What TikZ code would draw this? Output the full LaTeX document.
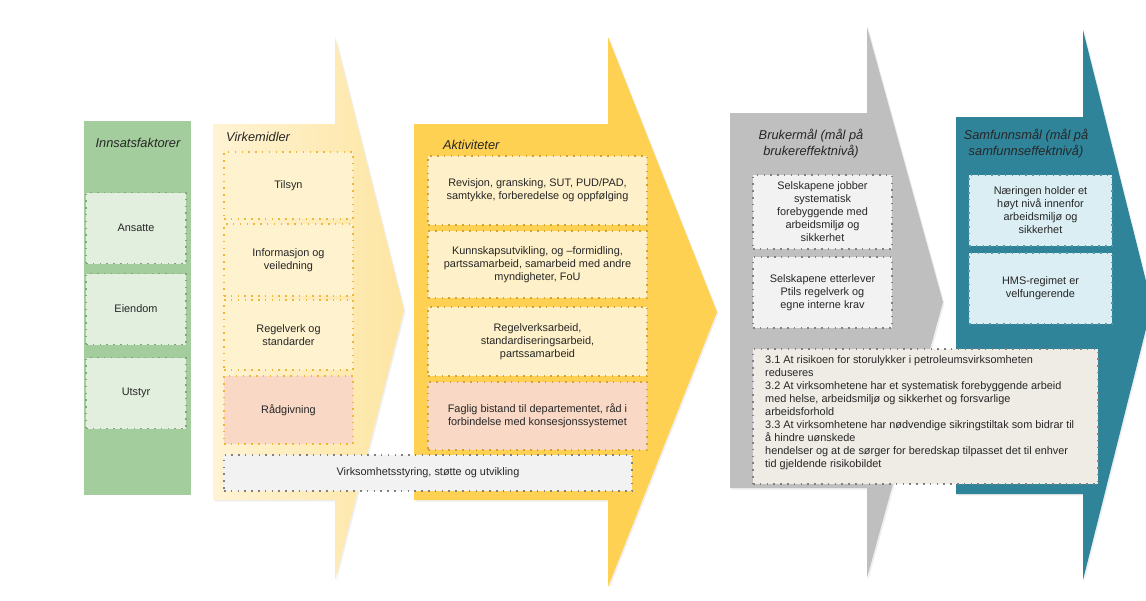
\documentclass[tikz,border=0pt]{standalone}
\usepackage{fontspec}
\setmainfont{Liberation Sans}
\usetikzlibrary{shadows}
\definecolor{txt}{HTML}{262626}
\definecolor{green}{HTML}{A3CD9C}
\definecolor{gbfill}{HTML}{E2EFDF}
\definecolor{gbdot}{HTML}{7FA67B}
\definecolor{vlight}{HTML}{FFF3D4}
\definecolor{vdark}{HTML}{FDE5A2}
\definecolor{vbfill}{HTML}{FEF2CF}
\definecolor{vbdot}{HTML}{EDB83A}
\definecolor{gold}{HTML}{FFD152}
\definecolor{abfill}{HTML}{FEF0C8}
\definecolor{abdot}{HTML}{D4A232}
\definecolor{peach}{HTML}{F9D8C5}
\definecolor{lgray}{HTML}{F2F2F2}
\definecolor{gdot}{HTML}{808080}
\definecolor{gray1}{HTML}{BFBFBF}
\definecolor{beige}{HTML}{EEECE4}
\definecolor{teal}{HTML}{30849A}
\definecolor{tbfill}{HTML}{DAEEF3}
\definecolor{tbdot}{HTML}{5A98A8}
\tikzset{
  arrowshape/.style={draw=none, drop shadow={opacity=0.12, shadow xshift=1.5pt, shadow yshift=-1.5pt}},
  dbox/.style={draw, dash pattern=on 1.5pt off 5.3pt, line width=1.5pt, inner sep=0pt,
    align=center, text=txt, font=\fontsize{10.9}{13}\selectfont},
  gbox/.style={dbox, fill=gbfill, draw=gbdot, minimum width=100pt, minimum height=71pt},
  vbox/.style={dbox, fill=vbfill, draw=vbdot, minimum width=129pt},
  abox/.style={dbox, fill=abfill, draw=abdot, minimum width=219pt},
  bbox/.style={dbox, fill=lgray, draw=gdot, minimum width=139pt},
  tbox/.style={dbox, fill=tbfill, draw=tbdot, minimum width=143pt},
  title/.style={inner sep=0pt, text=txt, align=center, font=\fontsize{12.8}{15.5}\selectfont\itshape},
}
\begin{document}
\begin{tikzpicture}[x=1pt,y=-1pt]
\useasboundingbox (0,0) rectangle (1146,600);
\clip (0,0) rectangle (1146,600);
\fill[white] (0,0) rectangle (1146,600);

% Innsatsfaktorer column
\fill[green] (84,121) rectangle (191,495);
\node[title] (tin) at (138,143) {Innsatsfaktorer};
\node[gbox] (ansatte) at (136,228) {Ansatte};
\node[gbox] (eiendom) at (136,309) {Eiendom};
\node[gbox] (utstyr) at (136,393) {Utstyr};

% Virkemidler arrow
\path[arrowshape, left color=vlight, right color=vdark]
  (213,124) -- (335,124) -- (335,37) -- (404,310) -- (335,580) -- (335,500) -- (213,500) -- cycle;
% Aktiviteter arrow
\path[arrowshape, fill=gold]
  (414,124) -- (608,124) -- (608,37) -- (717,312) -- (608,587) -- (608,500) -- (414,500) -- cycle;

\node[title, anchor=west] (tvirk) at (226,137) {Virkemidler};
\node[vbox, minimum height=67pt] (tilsyn) at (288.5,185.5) {Tilsyn};
\node[vbox, minimum height=72pt] (info) at (288.5,260) {Informasjon og\\veiledning};
\node[vbox, minimum height=70pt] (regel) at (288.5,335) {Regelverk og\\standarder};
\node[vbox, minimum height=68pt, fill=peach] (radg) at (288.5,410) {Rådgivning};

\node[title, anchor=west] (takt) at (443,145) {Aktiviteter};
\node[abox, minimum height=69pt] (rev) at (537.5,190.5) {Revisjon, gransking, SUT, PUD/PAD,\\samtykke, forberedelse og oppfølging};
\node[abox, minimum height=67pt] (kunn) at (537.5,264.5) {Kunnskapsutvikling, og –formidling,\\partssamarbeid, samarbeid med andre\\myndigheter, FoU};
\node[abox, minimum height=69pt] (regarb) at (537.5,341.5) {Regelverksarbeid,\\standardiseringsarbeid,\\partssamarbeid};
\node[abox, minimum height=68pt, fill=peach] (faglig) at (537.5,416) {Faglig bistand til departementet, råd i\\forbindelse med konsesjonssystemet};

\node[dbox, fill=lgray, draw=gdot, minimum width=408pt, minimum height=36pt] (virks) at (428,473) {Virksomhetsstyring, støtte og utvikling};

% Brukermål arrow
\path[arrowshape, fill=gray1]
  (730,113) -- (867,113) -- (867,27) -- (943,302) -- (867,578) -- (867,488) -- (730,488) -- cycle;
% Samfunnsmål arrow
\path[arrowshape, fill=teal]
  (956,117) -- (1083,117) -- (1083,30) -- (1152,305) -- (1083,580) -- (1083,494) -- (956,494) -- cycle;

\node[title] (tbruk) at (811,143.5) {Brukermål (mål på\\brukereffektnivå)};
\node[bbox, minimum height=74pt] (b1) at (822.5,212) {Selskapene jobber\\systematisk\\forebyggende med\\arbeidsmiljø og\\sikkerhet};
\node[bbox, minimum height=71pt] (b2) at (822.5,292.5) {Selskapene etterlever\\Ptils regelverk og\\egne interne krav};

\node[title] (tsam) at (1026,143.5) {Samfunnsmål (mål på\\samfunnseffektnivå)};
\node[tbox, minimum height=71pt] (s1) at (1040.5,210.5) {Næringen holder et\\høyt nivå innenfor\\arbeidsmiljø og\\sikkerhet};
\node[tbox, minimum height=71pt] (s2) at (1040.5,288.5) {HMS-regimet er\\velfungerende};

\node[dbox, fill=beige, draw=gdot, minimum width=345pt, minimum height=135pt] (goals) at (925.5,416.5) {};
\node[inner sep=0pt, anchor=north west, align=left, text=txt, font=\fontsize{10.9}{13}\selectfont] (goaltext) at (765,355.5)
{3.1 At risikoen for storulykker i petroleumsvirksomheten\\
reduseres\\
3.2 At virksomhetene har et systematisk forebyggende arbeid\\
med helse, arbeidsmiljø og sikkerhet og forsvarlige\\
arbeidsforhold\\
3.3 At virksomhetene har nødvendige sikringstiltak som bidrar til\\
å hindre uønskede\\
hendelser og at de sørger for beredskap tilpasset det til enhver\\
tid gjeldende risikobildet};
\end{tikzpicture}
\end{document}
